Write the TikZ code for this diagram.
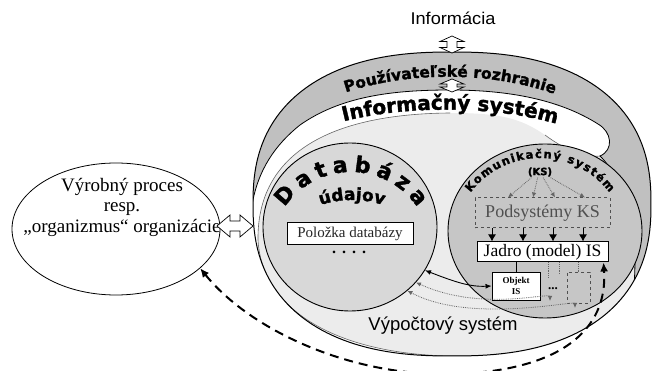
\documentclass[tikz,border=0pt]{standalone}
\usepackage{fontspec}
\setmainfont{Liberation Serif}
\newfontfamily\sansf{Liberation Sans}
\newfontfamily\heavyf{DejaVu Sans}[BoldFeatures={FakeBold=1.6}]
\usetikzlibrary{shapes.geometric,decorations.text,arrows.meta,calc}
\definecolor{bandgray}{HTML}{C0C0C0}
\definecolor{vslight}{HTML}{ECECEC}
\definecolor{dbgray}{HTML}{D8D8D8}
\definecolor{ksgray}{HTML}{C6C6C6}
\definecolor{dkgray}{HTML}{505050}
\begin{document}
\begin{tikzpicture}[x=1pt,y=1pt,
  wbox/.style={draw=black, fill=white, line width=1pt, inner sep=1pt},
  dashbox/.style={draw=dkgray, dashed, line width=1pt},
  bigtip/.style={-{Latex[length=7pt,width=8pt]}, line width=1pt},
  dotarrow/.style={densely dotted, draw=black!60, line width=0.8pt, {Latex[length=5pt,width=4.5pt]}-{Latex[length=5pt,width=4.5pt]}},
  dotline/.style={densely dotted, draw=black!60, line width=0.8pt},
  dottip/.style={densely dotted, draw=black!60, line width=0.8pt, -{Latex[length=5pt,width=4.5pt]}},
  feedback/.style={line width=2pt, dash pattern=on 9pt off 6pt, {Latex[length=9pt,width=8pt]}-{Latex[length=9pt,width=8pt]}},
  blk/.style={draw=black, fill=white, line width=0.7pt, line join=miter},
  curvetext/.style={decorate, decoration={text along path, text align=center}}
]
\useasboundingbox (0,0) rectangle (656,-371);

% ---------- outer system (user interface band) ----------
\begin{scope}
  \clip plot[domain=1:361, samples=181, variable=\t]
    ({452+199*cos(\t)*abs(cos(\t))^(-0.1667)}, {-204+152*sin(\t)*abs(sin(\t))^(-0.1667)}) -- cycle;
  \fill[bandgray] (240,-40) rectangle (670,-370);
  % white region of the information system
  \fill[white] (230,-205) -- (252,-205) .. controls (258,-170) and (275,-145) .. (300,-125)
     .. controls (340,-97) and (390,-90) .. (450,-90)
     .. controls (510,-90) and (560,-100) .. (598,-124) -- (670,-124) -- (670,-370) -- (230,-370) -- cycle;
  % computer system region
  \fill[vslight]
     (258,-240) .. controls (257,-160) and (320,-114) .. (450,-113)
     .. controls (500,-113) and (520,-118) .. (545,-135)
     .. controls (565,-150) and (585,-158) .. (600,-156)
     .. controls (625,-180) and (642,-240) .. (632,-300)
     .. controls (620,-345) and (560,-356) .. (450,-356)
     .. controls (340,-354) and (262,-312) .. (258,-240) -- cycle;
  \draw[black!60, line width=0.6pt] (450,-113) .. controls (320,-114) and (257,-160) .. (258,-240)
     .. controls (262,-312) and (340,-354) .. (450,-356)
     .. controls (560,-356) and (620,-345) .. (632,-300);
  \draw[black!60, line width=0.6pt] (545,-135) .. controls (565,-150) and (585,-158) .. (600,-156);
  % gray tongue on the right
  \fill[bandgray] (598,-124) .. controls (612,-132) and (614,-150) .. (600,-156)
     .. controls (625,-180) and (642,-240) .. (632,-300) -- (670,-300) -- (670,-110) -- cycle;
  \draw[line width=0.8pt] (252,-205) .. controls (258,-170) and (275,-145) .. (300,-125)
     .. controls (340,-97) and (390,-90) .. (450,-90)
     .. controls (510,-90) and (560,-100) .. (598,-124)
     .. controls (612,-132) and (614,-150) .. (600,-156)
     .. controls (625,-180) and (642,-240) .. (632,-300);
\end{scope}
\draw[line width=1pt] plot[domain=1:361, samples=181, variable=\t]
    ({452+199*cos(\t)*abs(cos(\t))^(-0.1667)}, {-204+152*sin(\t)*abs(sin(\t))^(-0.1667)}) -- cycle;

% ---------- database and communication system ----------
\node[ellipse, draw, fill=dbgray, line width=0.9pt, minimum width=174, minimum height=168] (db) at (350,-227) {};
\node[ellipse, draw, fill=ksgray, line width=0.9pt, minimum width=194, minimum height=174] (ksell) at (545,-231) {};

% ---------- curved titles ----------
\path[curvetext, decoration={text={|\heavyf\bfseries\fontsize{15.5}{15.5}\selectfont|Používateľské rozhranie}}]
  (328,-99) .. controls (400,-69) and (500,-69) .. (572,-101);
\path[curvetext, decoration={text={|\heavyf\bfseries\fontsize{20}{20}\selectfont|Informačný systém}}]
  (330,-125) .. controls (400,-104) and (500,-104) .. (570,-128);
\path[decorate, decoration={text along path, text align={fit to path},
   text={|\heavyf\bfseries\fontsize{22}{22}\selectfont|Databáza}}]
  ($(351,-252)+(146:80)$) arc[start angle=146, end angle=34, radius=80];
\path[curvetext, decoration={text={|\heavyf\bfseries\fontsize{17}{17}\selectfont|údajov}}]
  ($(352,-300)+(112:100)$) arc[start angle=112, end angle=68, radius=100];
\path[decorate, decoration={text along path, text align={fit to path},
   text={|\heavyf\bfseries\fontsize{11.5}{11.5}\selectfont|Komunikačný systém}}]
  ($(540,-245)+(143:87)$) arc[start angle=143, end angle=37, radius=87];

% ---------- texts ----------
\node[font=\sansf\fontsize{17}{20}\selectfont] (info) at (453,-18) {\scalebox{1.07}[1]{Informácia}};
\node[font=\sansf\fontsize{18.5}{22}\selectfont] (vs) at (443,-326) {Výpočtový systém};
\node[font=\heavyf\bfseries\fontsize{10}{12}\selectfont, inner sep=1pt] (ks) at (540,-172) {(KS)};

% ---------- database content ----------
\node[wbox, minimum width=126, minimum height=22, font=\fontsize{15}{17}\selectfont, text=black!85] (item) at (350,-234) {Položka databázy};
\node[font=\bfseries\fontsize{16}{16}\selectfont] (dbdots) at (349,-252) {.\hspace{6pt}.\hspace{6pt}.\hspace{6pt}.};

% ---------- communication system content ----------
\node[dashbox, fill=ksgray, minimum width=135, minimum height=30, font=\fontsize{18}{20}\selectfont, text=dkgray] (pod) at (542.5,-213) {Podsystémy KS};
\node[wbox, minimum width=131, minimum height=20, font=\fontsize{17.5}{19}\selectfont] (jadro) at (542.5,-252) {Jadro (model) IS};
\node[wbox, line width=0.9pt, minimum width=48, minimum height=28, align=center, font=\bfseries\fontsize{9}{10.5}\selectfont] (obj) at (516,-286) {Objekt\\IS};
\node[font=\bfseries\fontsize{13}{13}\selectfont, inner sep=0pt] (odots) at (553,-289) {...};
\node[dashbox, line width=0.8pt, minimum width=23, minimum height=31] (dbox) at (578.5,-287.5) {};

\foreach \dx in {-34.5,-9.5,12.5,42.5}
  \draw[dottip] ([xshift=0.25*\dx pt]ks.south) -- ([xshift=\dx pt]pod.north);
\foreach \dx in {-50.5,-19.5,10.5,40.5}
  \draw[bigtip] ([xshift=\dx pt]pod.south) -- ([xshift=\dx pt]jadro.north);

\draw[line width=0.9pt] (jadro.south -| obj.north) -- (obj.north);
\draw[dotline] ([xshift=5.5pt]jadro.south) -- ++(0,-15);
\draw[dotline] ([xshift=16.5pt]jadro.south) -- ++(0,-11);
\draw[dotline] (jadro.south -| dbox.north) -- (dbox.north);

% ---------- connections database <-> objects ----------
\draw[line width=0.9pt, {Latex[length=6pt,width=5pt]}-{Latex[length=6pt,width=5pt]}] (db.-30) .. controls (455,-282) and (470,-287) .. (obj.west);
\coordinate (e1) at (550,-301);
\coordinate (e2) at (575,-308);
\draw[dotarrow] (db.-40) .. controls (480,-312) and (550,-292) .. (e1);
\draw[dotarrow] (db.-48) .. controls (470,-324) and (575,-300) .. (e2);

% ---------- production process ----------
\node[ellipse, draw, fill=white, line width=0.8pt, minimum width=208, minimum height=132] (proc) at (116,-229) {};
\node[align=center, font=\fontsize{19}{20.5}\selectfont, inner sep=0pt] (proctext) at (122,-207)
  {Výrobný proces\\resp.\\„organizmus“ organizácie};

% ---------- feedback dashed arrow ----------
\draw[feedback] (proc.-25) .. controls (250,-330) and (350,-376) .. (450,-374)
   .. controls (560,-372) and (608,-330) .. ([xshift=-5pt]jadro.south east);

% ---------- hollow double arrows ----------
\draw[blk] (217,-226) -- (230,-215) -- (230,-221) -- (240,-221) -- (240,-215) -- (253,-226)
   -- (240,-237) -- (240,-231) -- (230,-231) -- (230,-237) -- cycle;
\draw[blk] (452,-36) -- (464,-41.5) -- (457,-41.5) -- (457,-47.5) -- (464,-47.5) -- (452,-53)
   -- (440,-47.5) -- (447,-47.5) -- (447,-41.5) -- (440,-41.5) -- cycle;
\draw[blk] (452,-79) -- (464,-84) -- (457,-84) -- (457,-87) -- (464,-87) -- (452,-92)
   -- (440,-87) -- (447,-87) -- (447,-84) -- (440,-84) -- cycle;
\end{tikzpicture}
\end{document}
